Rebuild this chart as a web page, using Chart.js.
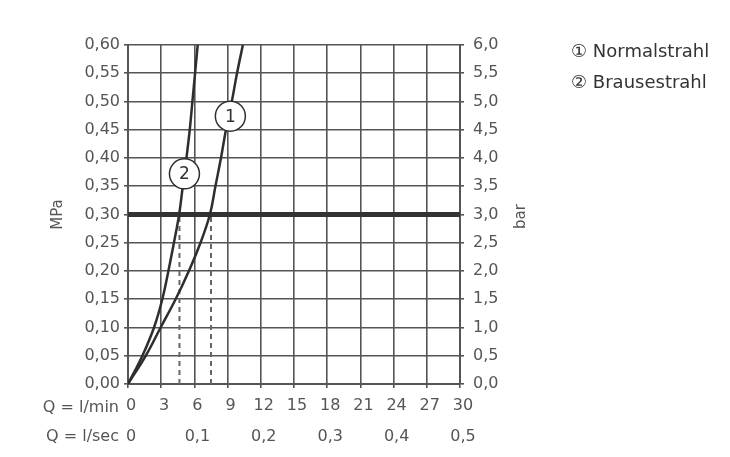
<!DOCTYPE html>
<html>
<head>
<meta charset="utf-8">
<script src="https://cdn.jsdelivr.net/npm/chart.js@4/dist/chart.umd.min.js"></script>
<style>
  body { margin: 0; background: #fff; }
  #wrap { position: relative; width: 730px; height: 457px; }
  .legend { position: absolute; left: 571px; font: 18px "DejaVu Sans", sans-serif; color: #333; white-space: nowrap; }
</style>
</head>
<body>
<div id="wrap">
  <canvas id="chart" width="730" height="457"></canvas>
  <div class="legend" style="top:40px">① Normalstrahl</div>
  <div class="legend" style="top:71px">② Brausestrahl</div>
</div>
<script>
// flow Q in l/min, pressure in MPa
const normalFlow = [0, 1.6, 2.95, 4.3, 5.5, 6.55, 7.4, 7.9, 8.4, 8.85, 9.38, 9.85, 10.38]
const normalMPa  = [0, 0.05, 0.10, 0.15, 0.20, 0.25, 0.30, 0.35, 0.40, 0.45, 0.50, 0.55, 0.60]
const brauseFlow = [0, 1.3, 2.35, 3.1, 3.65, 4.15, 4.62, 4.95, 5.28, 5.58, 5.82, 6.06, 6.3]
const brauseMPa  = [0, 0.05, 0.10, 0.15, 0.20, 0.25, 0.30, 0.35, 0.40, 0.45, 0.50, 0.55, 0.60]

const refPressure = 0.30          // bold line at 3 bar
const refFlowNormal = 7.5         // dashed drop lines
const refFlowBrause = 4.65

const markerLabels = ['1', '2']
const markerFlow = [9.25, 5.1]
const markerMPa = [0.474, 0.372]

const ink = '#2e2e2e'
const gridCol = '#555'
const textCol = '#555'
const font = '"DejaVu Sans", sans-serif'

const toPts = (xs, ys) => xs.map((x, i) => ({ x: x, y: ys[i] }))

const textPlugin = {
  id: 'texts',
  afterDatasetsDraw(chart) {
    const ctx = chart.ctx
    // circled numbers
    const meta = chart.getDatasetMeta(0)
    ctx.save()
    ctx.fillStyle = '#333'
    ctx.font = '17px ' + font
    ctx.textAlign = 'center'
    ctx.textBaseline = 'middle'
    meta.data.forEach((pt, i) => ctx.fillText(markerLabels[i], pt.x, pt.y + 1))
    ctx.restore()
  },
  afterDraw(chart) {
    const ctx = chart.ctx
    const area = chart.chartArea
    ctx.save()
    ctx.fillStyle = textCol
    ctx.font = '16px ' + font
    ctx.textBaseline = 'middle'
    ctx.textAlign = 'right'
    ctx.fillText('Q = l/min', 119, 408)
    ctx.fillText('Q = l/sec', 119, 437)
    const midY = (area.top + area.bottom) / 2
    ctx.textAlign = 'center'
    ctx.font = '15px ' + font
    ctx.translate(58, midY)
    ctx.rotate(-Math.PI / 2)
    ctx.fillText('MPa', 0, 0)
    ctx.restore()
    ctx.save()
    ctx.fillStyle = textCol
    ctx.font = '15px ' + font
    ctx.textBaseline = 'middle'
    ctx.textAlign = 'center'
    ctx.translate(521, midY + 2)
    ctx.rotate(-Math.PI / 2)
    ctx.fillText('bar', 0, 0)
    ctx.restore()
  }
}

const tickFont = { family: font, size: 16 }

new Chart(document.getElementById('chart'), {
  type: 'scatter',
  data: {
    datasets: [
      {
        label: 'markers',
        data: toPts(markerFlow, markerMPa),
        pointRadius: 15,
        pointHoverRadius: 15,
        pointBackgroundColor: '#fff',
        pointBorderColor: ink,
        pointBorderWidth: 1.5,
        showLine: false
      },
      {
        label: 'Normalstrahl',
        data: toPts(normalFlow, normalMPa),
        showLine: true,
        borderColor: ink,
        borderWidth: 2.5,
        pointRadius: 0,
        tension: 0.4
      },
      {
        label: 'Brausestrahl',
        data: toPts(brauseFlow, brauseMPa),
        showLine: true,
        borderColor: ink,
        borderWidth: 2.5,
        pointRadius: 0,
        tension: 0.4
      },
      {
        label: 'ref',
        data: [{ x: 0, y: refPressure }, { x: 30, y: refPressure }],
        showLine: true,
        borderColor: '#333',
        borderWidth: 5,
        pointRadius: 0
      },
      {
        label: 'dropNormal',
        data: [{ x: refFlowNormal, y: 0 }, { x: refFlowNormal, y: refPressure }],
        showLine: true,
        borderColor: '#666',
        borderWidth: 2,
        borderDash: [5, 4],
        pointRadius: 0
      },
      {
        label: 'dropBrause',
        data: [{ x: refFlowBrause, y: 0 }, { x: refFlowBrause, y: refPressure }],
        showLine: true,
        borderColor: '#666',
        borderWidth: 2,
        borderDash: [5, 4],
        pointRadius: 0
      }
    ]
  },
  options: {
    responsive: false,
    animation: false,
    layout: { padding: { top: 45, left: 0, right: 0, bottom: 7 } },
    plugins: { legend: { display: false }, tooltip: { enabled: false } },
    scales: {
      x: {
        type: 'linear',
        position: 'bottom',
        min: 0,
        max: 30,
        afterBuildTicks: s => { s.ticks = [0, 3, 6, 9, 12, 15, 18, 21, 24, 27, 30].map(v => ({ value: v })) },
        ticks: { color: textCol, font: tickFont, padding: 8, labelOffset: 3, maxRotation: 0 },
        grid: { color: gridCol, lineWidth: 1.6, tickLength: 4 },
        border: { color: gridCol, width: 2 },
        afterFit: s => { s.height = 36 }
      },
      x2: {
        type: 'linear',
        position: 'bottom',
        min: 0,
        max: 30,
        afterBuildTicks: s => { s.ticks = [0, 6, 12, 18, 24, 30].map(v => ({ value: v })) },
        ticks: {
          color: textCol, font: tickFont, padding: 7, labelOffset: 3, maxRotation: 0,
          callback: v => v === 0 ? '0' : (v / 60).toFixed(1).replace('.', ',')
        },
        grid: { display: false, drawTicks: false },
        border: { display: false },
        afterFit: s => { s.height = 30 }
      },
      y: {
        position: 'left',
        min: 0,
        max: 0.6,
        afterBuildTicks: s => { s.ticks = [0, 1, 2, 3, 4, 5, 6, 7, 8, 9, 10, 11, 12].map(i => ({ value: i * 0.05 })) },
        ticks: {
          color: textCol, font: tickFont, padding: 4,
          callback: v => v.toFixed(2).replace('.', ',')
        },
        grid: { color: gridCol, lineWidth: 1.6, tickLength: 4 },
        border: { color: gridCol, width: 2 },
        afterFit: s => { s.width = 128 }
      },
      y2: {
        position: 'right',
        min: 0,
        max: 6,
        afterBuildTicks: s => { s.ticks = [0, 1, 2, 3, 4, 5, 6, 7, 8, 9, 10, 11, 12].map(i => ({ value: i * 0.5 })) },
        ticks: {
          color: textCol, font: tickFont, padding: 9,
          callback: v => v.toFixed(1).replace('.', ',')
        },
        grid: { color: gridCol, lineWidth: 1.6, tickLength: 4, drawOnChartArea: false },
        border: { color: gridCol, width: 2 },
        afterFit: s => { s.width = 270 }
      }
    }
  },
  plugins: [textPlugin]
})
</script>
</body>
</html>
